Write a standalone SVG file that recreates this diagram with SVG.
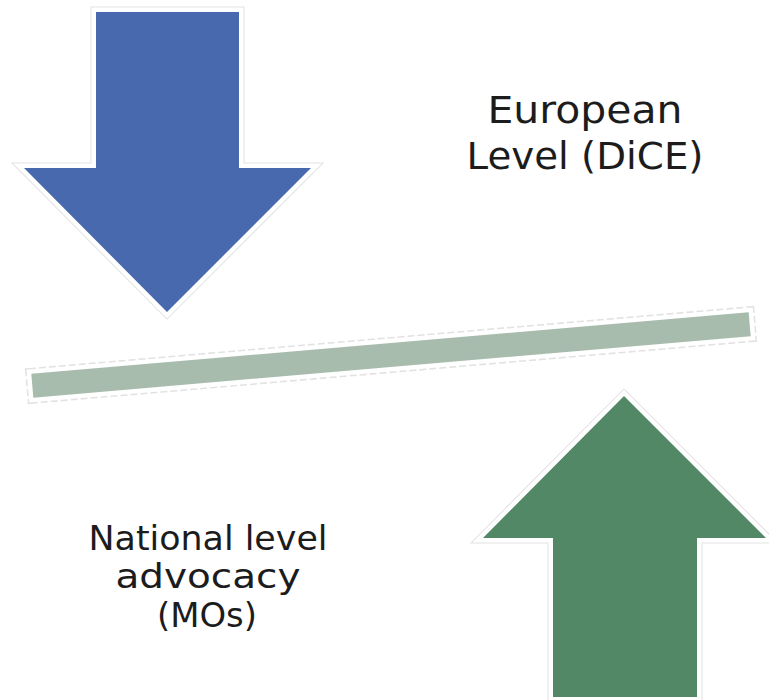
<svg xmlns="http://www.w3.org/2000/svg" width="769" height="700" viewBox="0 0 769 700">
<style>
.edge{fill:#ffffff;stroke:#e2e2e2;stroke-width:11;stroke-linejoin:miter}
.rim{fill:#ffffff;stroke:#ffffff;stroke-width:9;stroke-linejoin:miter}
.lbl{font-family:"DejaVu Sans","Liberation Sans",sans-serif;fill:#1c1c1c;text-anchor:middle}
</style>
<rect width="769" height="700" fill="#ffffff"/>
<g id="down-arrow">
<polygon class="edge" points="96,12 239,12 239,168 311,168 167,312 24,168 96,168"/>
<polygon class="rim" points="96,12 239,12 239,168 311,168 167,312 24,168 96,168"/>
<polygon fill="#4869AE" points="96,12 239,12 239,168 311,168 167,312 24,168 96,168"/>
</g>
<g id="balance-bar" transform="rotate(-4.9 391 355)">
<rect x="29" y="341" width="724" height="28" fill="#ffffff" stroke="#e2e2e2" stroke-width="8" stroke-dasharray="7 3"/>
<rect x="29" y="341" width="724" height="28" fill="#ffffff" stroke="#ffffff" stroke-width="5"/>
<rect x="31" y="343" width="720" height="24" fill="#A8BCAE"/>
</g>
<g id="up-arrow">
<polygon class="edge" points="624,396 766,538 697,538 697,697 553,697 553,538 483,538"/>
<polygon class="rim" points="624,396 766,538 697,538 697,697 553,697 553,538 483,538"/>
<polygon fill="#528866" points="624,396 766,538 697,538 697,697 553,697 553,538 483,538"/>
</g>
<g id="label-european">
<text class="lbl" font-size="37" x="585" y="123" textLength="195" lengthAdjust="spacingAndGlyphs">European</text>
<text class="lbl" font-size="37" x="585" y="169" textLength="237" lengthAdjust="spacingAndGlyphs">Level (DiCE)</text>
</g>
<g id="label-national">
<text class="lbl" font-size="34" x="208" y="550" textLength="239" lengthAdjust="spacingAndGlyphs">National level</text>
<text class="lbl" font-size="34" x="208" y="588" textLength="185" lengthAdjust="spacingAndGlyphs">advocacy</text>
<text class="lbl" font-size="34" x="207" y="627" textLength="100" lengthAdjust="spacingAndGlyphs">(MOs)</text>
</g>
</svg>
